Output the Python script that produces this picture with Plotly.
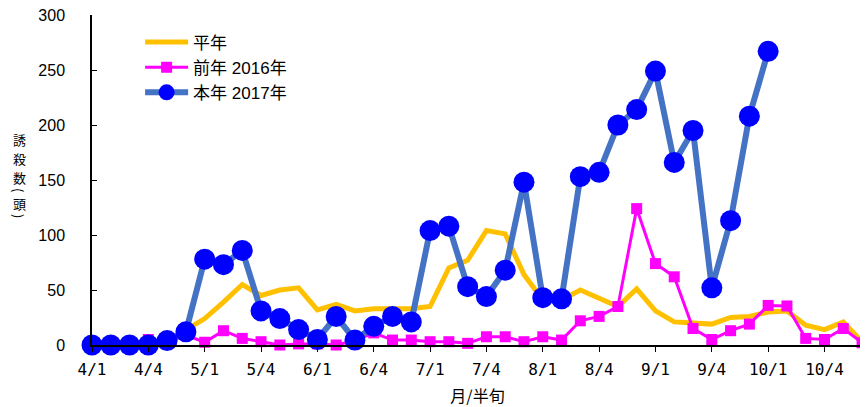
import plotly.graph_objects as go

# pentads (半旬) from 4/1 to 10/6
months = [4, 5, 6, 7, 8, 9, 10]
periods = [f"{m}/{p}" for m in months for p in range(1, 7)]
tick_labels = ["4/1", "4/4", "5/1", "5/4", "6/1", "6/4", "7/1", "7/4",
               "8/1", "8/4", "9/1", "9/4", "10/1", "10/4"]

# 平年 (average year)
avg_apr_jun = [0, 0, 0, 1, 3, 13, 24, 39, 55, 45, 50, 52, 32, 37, 31, 33, 33, 33]
avg_jul_aug = [35, 70, 77, 104, 101, 64, 41, 41, 50, 42, 35, 51]
avg_sep_oct = [31, 21, 20, 19, 25, 26, 30, 31, 18, 14, 21, 3]
avg_series = avg_apr_jun + avg_jul_aug + avg_sep_oct

# 前年 2016年
y2016_apr_jun = [0, 0, 0, 5, 3, 9, 2.5, 13, 6, 3, 0, 1, 1, 0, 4, 11, 4.5, 4.5]
y2016_jul_aug = [3, 3, 1.5, 7.5, 7.5, 3, 7.5, 4.5, 22, 26, 35, 124]
y2016_sep_oct = [74, 62, 15, 5, 13, 19, 36, 35.5, 6, 5, 15, 2]
y2016_series = y2016_apr_jun + y2016_jul_aug + y2016_sep_oct

# 本年 2017年
y2017_apr_jun = [0, 0, 0, 0, 4, 12, 78, 73, 86, 31, 24, 14, 5, 26, 4.5, 17, 26, 21]
y2017_jul_aug = [104, 108, 53, 44, 68, 148, 43, 42, 153, 157, 200, 214]
y2017_sep_oct = [249, 166, 195, 52, 113, 208, 267, None, None, None, None, None]
y2017_series = y2017_apr_jun + y2017_jul_aug + y2017_sep_oct

y_ticks = [0, 50, 100, 150, 200, 250, 300]
y_title_chars = ["誘", "殺", "数", "(", "頭", ")"]

x_idx = list(range(len(periods)))
tick_idx = [periods.index(t) for t in tick_labels]

font_main = "Liberation Sans, Noto Sans CJK JP, sans-serif"
font_jp = "Noto Sans CJK JP, Liberation Sans, sans-serif"

fig = go.Figure()
fig.add_trace(go.Scatter(
    x=x_idx, y=avg_series, name="平年", mode="lines",
    line=dict(color="#FFC000", width=5), cliponaxis=False))
fig.add_trace(go.Scatter(
    x=x_idx, y=y2016_series, name="前年 2016年", mode="lines+markers",
    line=dict(color="#FF00FF", width=3),
    marker=dict(symbol="square", size=11, color="#FF00FF"), cliponaxis=False))
fig.add_trace(go.Scatter(
    x=x_idx, y=y2017_series, name="本年 2017年", mode="lines+markers",
    line=dict(color="#4472C4", width=6),
    marker=dict(symbol="circle", size=21, color="#0000FF"), cliponaxis=False,
    connectgaps=False))

# the page body adds an 8px offset, so the figure is 8px smaller and margins shifted
fig.update_layout(
    width=860, height=399,
    margin=dict(l=84, r=5, t=7, b=62),
    paper_bgcolor="white", plot_bgcolor="white",
    font=dict(family=font_main, size=16, color="black"),
    showlegend=True,
    legend=dict(x=0.0624, y=0.971, xanchor="left", yanchor="top",
                bgcolor="rgba(0,0,0,0)", font=dict(size=17, family=font_main),
                tracegroupgap=0, itemwidth=43),
    xaxis=dict(
        range=[0, 41.05], automargin=False,
        tickmode="array", tickvals=tick_idx, ticktext=tick_labels,
        showline=True, linecolor="black", linewidth=1.5,
        ticks="outside", ticklen=5, tickcolor="black",
        showgrid=False, zeroline=False, ticklabelstandoff=4,
        tickfont=dict(family="DejaVu Sans Mono, monospace", size=16),
        title=dict(text="月/半旬", font=dict(family=font_jp, size=16), standoff=14),
    ),
    yaxis=dict(
        range=[0, 300], tickvals=y_ticks, automargin=False,
        showline=True, linecolor="black", linewidth=1.5,
        ticks="inside", ticklen=5, tickcolor="black",
        showgrid=False, zeroline=False, ticklabelstandoff=22,
        ticklabeloverflow="allow",
        tickfont=dict(family=font_main, size=16),
    ),
)

# vertical y-axis title, one character per annotation (screen pixel centres)
char_px = [139, 158, 177, 190, 203, 216]
char_angle = [0, 0, 0, 90, 0, 90]
for ch, py, ang in zip(y_title_chars, char_px, char_angle):
    fig.add_annotation(
        text=ch, xref="paper", yref="paper",
        x=(19 - 92) / 771, y=(345 - py) / 330, textangle=ang,
        xanchor="center", yanchor="middle", showarrow=False,
        borderpad=0,
        font=dict(family=font_jp, size=13))

fig.write_html("out.html")
